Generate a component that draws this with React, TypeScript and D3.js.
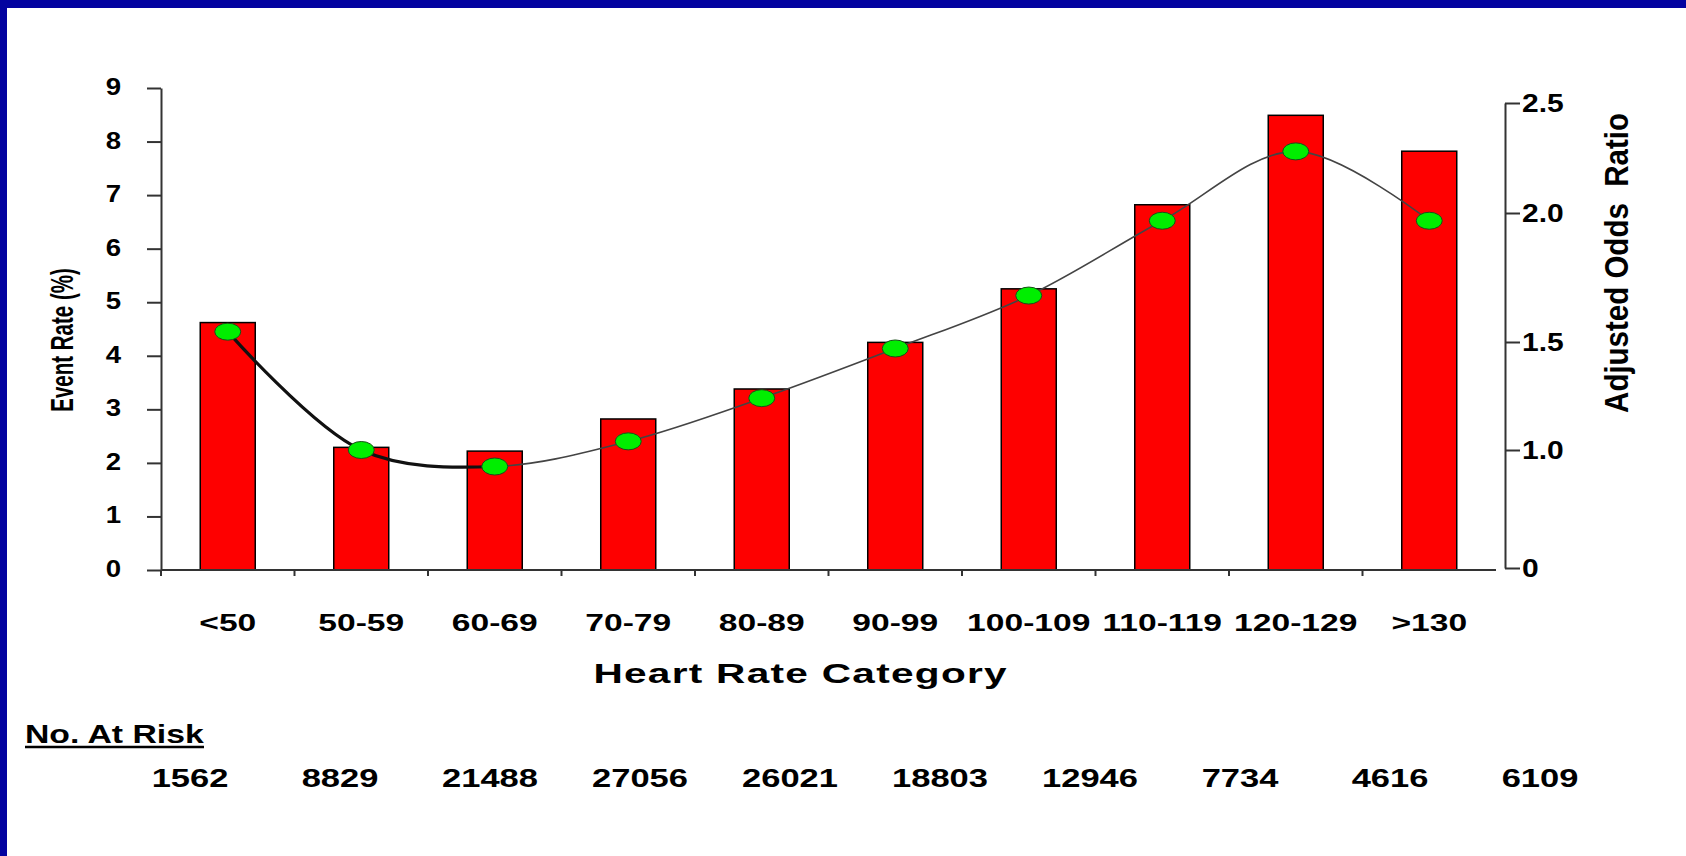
import React, { useEffect, useRef } from "react";
import * as d3 from "d3";

const width = 1686;
const height = 856;

// categories and values
const categories = ["<50", "50-59", "60-69", "70-79", "80-89", "90-99", "100-109", "110-119", "120-129", ">130"];
const eventRate = [4.62, 2.29, 2.22, 2.82, 3.38, 4.25, 5.25, 6.82, 8.49, 7.82];
const oddsRatio = [1.54, 1.0, 0.86, 1.04, 1.24, 1.47, 1.68, 1.97, 2.28, 1.97];
const atRisk = ["1562", "8829", "21488", "27056", "26021", "18803", "12946", "7734", "4616", "6109"];
const leftTicks = [0, 1, 2, 3, 4, 5, 6, 7, 8, 9];
const rightTicks = [0, 1, 1.5, 2, 2.5];
const rightTickLabels = ["0", "1.0", "1.5", "2.0", "2.5"];

const font = "'Liberation Sans', Arial, sans-serif";
const axisColor = "#333";

const xScale = d3.scaleBand<string>().domain(categories).range([161, 1496]).paddingInner(0.588).paddingOuter(0.294);
const yLeft = d3.scaleLinear().domain([0, 9]).range([570, 88]);
// right axis on the slide is broken: 0..1 is squeezed
const yRight = d3.scaleLinear().domain([0, 1, 1.5, 2, 2.5]).range([568, 450, 342, 213, 103]);
const riskX = d3.scalePoint<string>().domain(categories).range([190, 1540]);

const cx = (c: string) => (xScale(c) ?? 0) + xScale.bandwidth() / 2;

const App = () => {
  const leftRef = useRef<SVGGElement>(null);
  const rightRef = useRef<SVGGElement>(null);

  useEffect(() => {
    const left = d3.axisLeft(yLeft).tickValues(leftTicks).tickSize(14).tickSizeOuter(0).tickFormat(() => "");
    const right = d3.axisRight(yRight).tickValues(rightTicks).tickSize(15).tickSizeOuter(0).tickFormat(() => "");
    const l = d3.select(leftRef.current!).call(left);
    const r = d3.select(rightRef.current!).call(right);
    [l, r].forEach(g => {
      g.attr("color", axisColor);
      g.selectAll("path, line").attr("stroke-width", 2);
    });
  }, []);

  const line = d3
    .line<number>()
    .x((d, i) => cx(categories[i]))
    .y(d => yRight(d))
    .curve(d3.curveCatmullRom.alpha(0.5));
  const path = line(oddsRatio) ?? "";

  return (
    <svg width={width} height={height} style={{ position: "absolute", left: 0, top: 0, background: "#fff" }} fontFamily={font}>
      <rect x={0} y={0} width={width} height={8} fill="#0303a0" />
      <rect x={0} y={0} width={7} height={height} fill="#0303a0" />

      <defs>
        <clipPath id="firstPart">
          <rect x={0} y={0} width={cx(categories[2])} height={height} />
        </clipPath>
      </defs>

      {/* bars */}
      {categories.map((c, i) => (
        <rect
          key={c}
          x={xScale(c)}
          y={yLeft(eventRate[i])}
          width={xScale.bandwidth()}
          height={yLeft(0) - yLeft(eventRate[i])}
          fill="#fe0000"
          stroke="#000"
          strokeWidth={1.5}
        />
      ))}

      {/* axes */}
      <g ref={leftRef} transform={`translate(161,0)`} />
      <g ref={rightRef} transform={`translate(1505,0)`} />
      <line x1={161} x2={1496} y1={yLeft(0)} y2={yLeft(0)} stroke={axisColor} strokeWidth={2} />
      {categories.map(c => (
        <line key={c} x1={xScale(c)! - xScale.step() * 0.294} x2={xScale(c)! - xScale.step() * 0.294} y1={yLeft(0)} y2={yLeft(0) + 6} stroke={axisColor} strokeWidth={2} />
      ))}

      {/* odds ratio curve */}
      <path d={path} fill="none" stroke="#444" strokeWidth={1.6} />
      <path d={path} fill="none" stroke="#111" strokeWidth={3.2} clipPath="url(#firstPart)" />
      {categories.map((c, i) => (
        <ellipse key={c} cx={cx(c)} cy={yRight(oddsRatio[i])} rx={13} ry={8.5} fill="#00ee00" stroke="#1a4d1a" strokeWidth={1} />
      ))}

      {/* left tick labels */}
      {leftTicks.map(t => (
        <text key={t} transform={`translate(121,${yLeft(t) + 7}) scale(1.15,1)`} textAnchor="end" fontSize={24} fontWeight="bold" fill="#000">
          {t}
        </text>
      ))}

      {/* right tick labels */}
      {rightTicks.map((t, i) => (
        <text key={t} transform={`translate(1522,${yRight(t) + 9}) scale(1.2,1)`} fontSize={25} fontWeight="bold" fill="#000">
          {rightTickLabels[i]}
        </text>
      ))}

      {/* category labels */}
      {categories.map(c => (
        <text key={c} transform={`translate(${cx(c)},631) scale(1.4,1)`} textAnchor="middle" fontSize={24} fontWeight="bold" fill="#000">
          {c}
        </text>
      ))}

      {/* axis titles */}
      <text transform="translate(62,340) scale(1.5,1) rotate(-90)" textAnchor="middle" dy="0.35em" fontSize={20.5} fontWeight="bold" fill="#000">
        Event Rate (%)
      </text>
      <text transform="translate(1617,263) scale(1.1,1) rotate(-90)" textAnchor="middle" dy="0.35em" fontSize={29.5} fontWeight="bold" fill="#000" style={{ whiteSpace: "pre" }}>
        {"Adjusted Odds  Ratio"}
      </text>
      <text transform="translate(800,683) scale(1.45,1)" textAnchor="middle" fontSize={28} fontWeight="bold" fill="#000" textLength={285} lengthAdjust="spacing">
        Heart Rate Category
      </text>

      {/* numbers at risk */}
      <text transform="translate(25,743) scale(1.35,1)" fontSize={25} fontWeight="bold" fill="#000">
        No. At Risk
      </text>
      <line x1={25} x2={204} y1={747} y2={747} stroke="#000" strokeWidth={2.5} />
      {categories.map((c, i) => (
        <text key={c} transform={`translate(${riskX(c)},787) scale(1.38,1)`} textAnchor="middle" fontSize={25} fontWeight="bold" fill="#000">
          {atRisk[i]}
        </text>
      ))}
    </svg>
  );
};

export default App;
